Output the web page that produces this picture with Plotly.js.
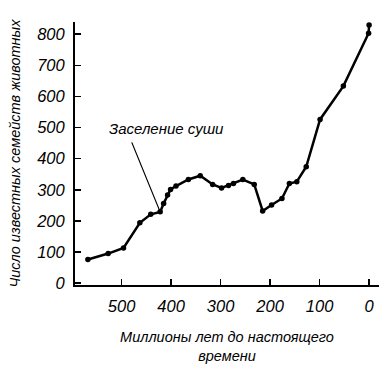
<!DOCTYPE html>
<html>
<head>
<meta charset="utf-8">
<script src="https://cdn.plot.ly/plotly-3.0.1.min.js"></script>
<style>html,body{margin:0;padding:0;background:#fff;}#chart{width:385px;height:372px;}</style>
</head>
<body>
<div id="chart"></div>
<script>
// Millions of years before present
var mya = [568, 527, 496, 463, 441, 422, 415, 407, 401, 390, 365, 341, 316, 298, 284, 274, 255, 232, 215, 197, 176, 161, 146, 127, 99, 52, 1, 0];
// Number of known animal families
var families = [76, 95, 113, 194, 221, 229, 256, 283, 301, 312, 333, 345, 317, 306, 314, 320, 333, 317, 232, 251, 272, 320, 326, 374, 526, 633, 803, 829];
var xTicks = [500, 400, 300, 200, 100, 0];
var yTicks = [0, 100, 200, 300, 400, 500, 600, 700, 800];
var landLabel = "Заселение суши";
var landX = 422, landY = 229;

var fontFam = "Liberation Sans, Arial, sans-serif";
var trace = {
  x: mya, y: families, type: "scatter", mode: "lines+markers",
  line: {color: "#000", width: 2.5},
  marker: {color: "#000", size: 5.5},
  hoverinfo: "skip"
};
var layout = {
  width: 385, height: 372,
  margin: {l: 75, r: 6, t: 22, b: 87},
  paper_bgcolor: "#fff", plot_bgcolor: "#fff",
  showlegend: false,
  font: {family: fontFam, color: "#000"},
  xaxis: {
    range: [594, -20], tickvals: xTicks, ticktext: xTicks.map(String),
    ticks: "inside", ticklen: 6, tickwidth: 1.5, tickcolor: "#000",
    showline: true, linecolor: "#000", linewidth: 2,
    showgrid: false, zeroline: false,
    tickfont: {size: 16.5, style: "italic", family: fontFam},
    ticklabelstandoff: 5,
    title: {text: "Миллионы лет до настоящего<br>времени", font: {size: 14.5, style: "italic", family: fontFam}, standoff: 18}
  },
  yaxis: {
    range: [-6, 839], tickvals: yTicks, ticktext: yTicks.map(String),
    ticks: "inside", ticklen: 6, tickwidth: 1.5, tickcolor: "#000",
    showline: true, linecolor: "#000", linewidth: 2,
    showgrid: false, zeroline: false,
    tickfont: {size: 16.5, style: "italic", family: fontFam},
    ticklabelstandoff: 5,
    title: {text: "Число известных семейств животных", font: {size: 14.5, style: "italic", family: fontFam}, standoff: 12}
  },
  annotations: [{
    x: landX, y: landY, xref: "x", yref: "y",
    text: "", showarrow: true, arrowhead: 0, arrowwidth: 1.2, arrowcolor: "#000",
    ax: -29, ay: -71
  }, {
    x: landX, y: landY, xref: "x", yref: "y",
    text: landLabel, showarrow: false, xanchor: "center", yanchor: "middle",
    xshift: 6, yshift: 83,
    font: {size: 15, style: "italic", family: fontFam, color: "#000"}
  }]
};
Plotly.newPlot("chart", [trace], layout, {displayModeBar: false, staticPlot: true});
</script>
</body>
</html>
